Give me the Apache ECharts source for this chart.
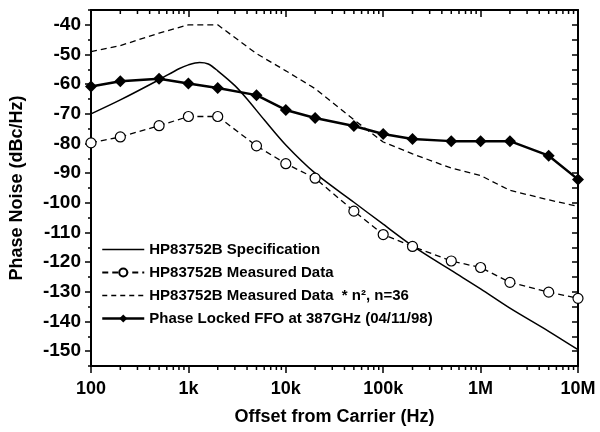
<!DOCTYPE html>
<html>
<head>
<meta charset="utf-8">
<script src="https://cdn.jsdelivr.net/npm/echarts@6/dist/echarts.min.js"></script>
<style>
html,body{margin:0;padding:0;background:#fff;}
#chart{width:600px;height:432px;}
</style>
</head>
<body>
<div id="chart"></div>
<script>
// ---- data ----
const freqPoints = [100, 200, 500, 1e3, 2e3, 5e3, 1e4, 2e4, 5e4, 1e5, 2e5, 5e5, 1e6, 2e6, 5e6, 1e7];

const ffoValues      = [-60.8, -59, -58.2, -59.8, -61.3, -63.7, -68.7, -71.4, -74.1, -76.8, -78.5, -79.2, -79.2, -79.2, -84.1, -92.1];
const measuredValues = [-79.8, -77.8, -74, -70.9, -70.9, -80.8, -86.8, -91.7, -102.8, -110.7, -114.7, -119.6, -121.8, -126.8, -130.1, -132.2];
const scaledValues   = [-49, -47, -42.8, -40, -40, -49.7, -55.5, -61.5, -72, -79.5, -83.5, -88.3, -90.8, -95.8, -99, -101.2];

const specFreq   = [100, 200, 500, 800, 1000, 1300, 1600, 2000, 3000, 4000, 6000, 1e4, 2e4, 5e4, 1e5, 2e5, 5e5, 1e6, 2e6, 5e6, 1e7];
const specValues = [-70, -65.3, -58.5, -54.8, -53.5, -52.7, -53.2, -55.5, -60.5, -65, -72, -80.5, -90, -99.8, -107.2, -114.5, -122.8, -129, -135.5, -143.3, -149.5];

const xTickLabels = {100: '100', 1000: '1k', 10000: '10k', 100000: '100k', 1000000: '1M', 10000000: '10M'};
const yLabelValues = [-150, -140, -130, -120, -110, -100, -90, -80, -70, -60, -50, -40];
const yMinorValues = [-155, -150, -145, -140, -135, -130, -125, -120, -115, -110, -105, -100, -95, -90, -85, -80, -75, -70, -65, -60, -55, -50, -45, -40, -35];
const xMinorValues = [200,300,400,500,600,700,800,900,
                      2e3,3e3,4e3,5e3,6e3,7e3,8e3,9e3,
                      2e4,3e4,4e4,5e4,6e4,7e4,8e4,9e4,
                      2e5,3e5,4e5,5e5,6e5,7e5,8e5,9e5,
                      2e6,3e6,4e6,5e6,6e6,7e6,8e6,9e6];

const seriesNames = ['HP83752B Specification', 'HP83752B Measured Data', 'HP83752B Measured Data  * n\u00B2, n=36', 'Phase Locked FFO at 387GHz (04/11/98)'];

const zip = (xs, ys) => xs.map((x, i) => [x, ys[i]]);
const FONT = 'Liberation Sans, Arial, Helvetica, sans-serif';
const YMIN = -155, YMAX = -35;

// legend icons (42 x 10 box; tiny corner specks keep the box size)
const BOX = 'M0,0L0.05,0L0.05,0.05Z M41.95,9.95L42,9.95L42,10Z ';
const solidIcon  = 'path://' + BOX + 'M0,4.3L42,4.3L42,5.7L0,5.7Z';
const dashedIcon = 'path://' + BOX + 'M0,4.35L5,4.35L5,5.65L0,5.65Z M9,4.35L14,4.35L14,5.65L9,5.65Z M18,4.35L23,4.35L23,5.65L18,5.65Z M27,4.35L32,4.35L32,5.65L27,5.65Z M36,4.35L41,4.35L41,5.65L36,5.65Z';

const chart = echarts.init(document.getElementById('chart'));
chart.setOption({
  animation: false,
  backgroundColor: '#fff',
  grid: {left: 90, right: 22, top: 10, bottom: 66, containLabel: false},
  legend: {
    orient: 'vertical',
    left: 96, top: 237,
    itemWidth: 42, itemHeight: 10, itemGap: 8,
    data: [
      {name: seriesNames[0], icon: solidIcon},
      {name: seriesNames[1]},
      {name: seriesNames[2], icon: dashedIcon},
      {name: seriesNames[3], lineStyle: {width: 2.5}}
    ],
    textStyle: {fontFamily: FONT, fontWeight: 'bold', fontSize: 15, color: '#000'},
    inactiveColor: '#000'
  },
  xAxis: [{
    type: 'log', logBase: 10, min: 100, max: 1e7, position: 'bottom',
    axisLine: {lineStyle: {color: '#000', width: 2}},
    axisTick: {inside: false, length: 7, lineStyle: {color: '#000', width: 1.5}},
    axisLabel: {formatter: v => xTickLabels[Math.round(v)] || '', fontFamily: FONT, fontWeight: 'bold', fontSize: 18, color: '#000', margin: 14},
    splitLine: {show: false},
    name: 'Offset from Carrier (Hz)', nameLocation: 'middle', nameGap: 42,
    nameTextStyle: {fontFamily: FONT, fontWeight: 'bold', fontSize: 18, color: '#000'}
  }, {
    type: 'log', logBase: 10, min: 100, max: 1e7, position: 'top',
    axisLine: {lineStyle: {color: '#000', width: 2}},
    axisTick: {inside: true, length: 7, lineStyle: {color: '#000', width: 1.5}},
    axisLabel: {show: false}, splitLine: {show: false}
  }],
  yAxis: [{
    type: 'value', min: YMIN, max: YMAX, position: 'left',
    axisLine: {show: true, lineStyle: {color: '#000', width: 2}},
    axisTick: {show: true, inside: false, length: 6, customValues: yLabelValues, lineStyle: {color: '#000', width: 1.5}},
    axisLabel: {customValues: yLabelValues, fontFamily: FONT, fontWeight: 'bold', fontSize: 19, color: '#000', margin: 10},
    splitLine: {show: false},
    name: 'Phase Noise (dBc/Hz)', nameLocation: 'middle', nameGap: 65, nameRotate: 90,
    nameTextStyle: {fontFamily: FONT, fontWeight: 'bold', fontSize: 18, color: '#000'}
  }, {
    type: 'value', min: YMIN, max: YMAX, position: 'left',
    axisLine: {show: false},
    axisTick: {show: true, inside: false, length: 3, customValues: yMinorValues, lineStyle: {color: '#000', width: 1.5}},
    axisLabel: {show: false}, splitLine: {show: false}
  }, {
    type: 'value', min: YMIN, max: YMAX, position: 'right',
    axisLine: {show: true, lineStyle: {color: '#000', width: 2}},
    axisTick: {show: true, inside: true, length: 6, customValues: yMinorValues, lineStyle: {color: '#000', width: 1.5}},
    axisLabel: {show: false}, splitLine: {show: false}
  }],
  series: [
    {
      type: 'custom', silent: true, xAxisIndex: 0, yAxisIndex: 0, clip: false,
      data: xMinorValues.map(v => [v]),
      encode: {x: 0},
      renderItem: (params, api) => {
        const v = api.value(0);
        const b = api.coord([v, YMIN]);
        const t = api.coord([v, YMAX]);
        const st = {stroke: '#000', lineWidth: 1.5};
        return {type: 'group', children: [
          {type: 'line', shape: {x1: b[0], y1: b[1], x2: b[0], y2: b[1] + 4}, style: st},
          {type: 'line', shape: {x1: t[0], y1: t[1], x2: t[0], y2: t[1] + 4}, style: st}
        ]};
      }
    },
    {
      name: seriesNames[0], type: 'line', data: zip(specFreq, specValues),
      smooth: 0.3, symbol: 'none',
      lineStyle: {color: '#000', width: 1.5, type: 'solid'}, itemStyle: {color: '#000'}
    },
    {
      name: seriesNames[1], type: 'line', data: zip(freqPoints, measuredValues),
      symbol: 'circle', symbolSize: 10, showSymbol: true,
      lineStyle: {color: '#000', width: 1.3, type: [6, 4]},
      itemStyle: {color: '#fff', borderColor: '#000', borderWidth: 1.2}
    },
    {
      name: seriesNames[2], type: 'line', data: zip(freqPoints, scaledValues),
      symbol: 'none',
      lineStyle: {color: '#000', width: 1.3, type: [6, 4]}, itemStyle: {color: '#000'}
    },
    {
      name: seriesNames[3], type: 'line', data: zip(freqPoints, ffoValues),
      symbol: 'diamond', symbolSize: 12,
      lineStyle: {color: '#000', width: 2.5}, itemStyle: {color: '#000'}
    }
  ]
});
</script>
</body>
</html>
